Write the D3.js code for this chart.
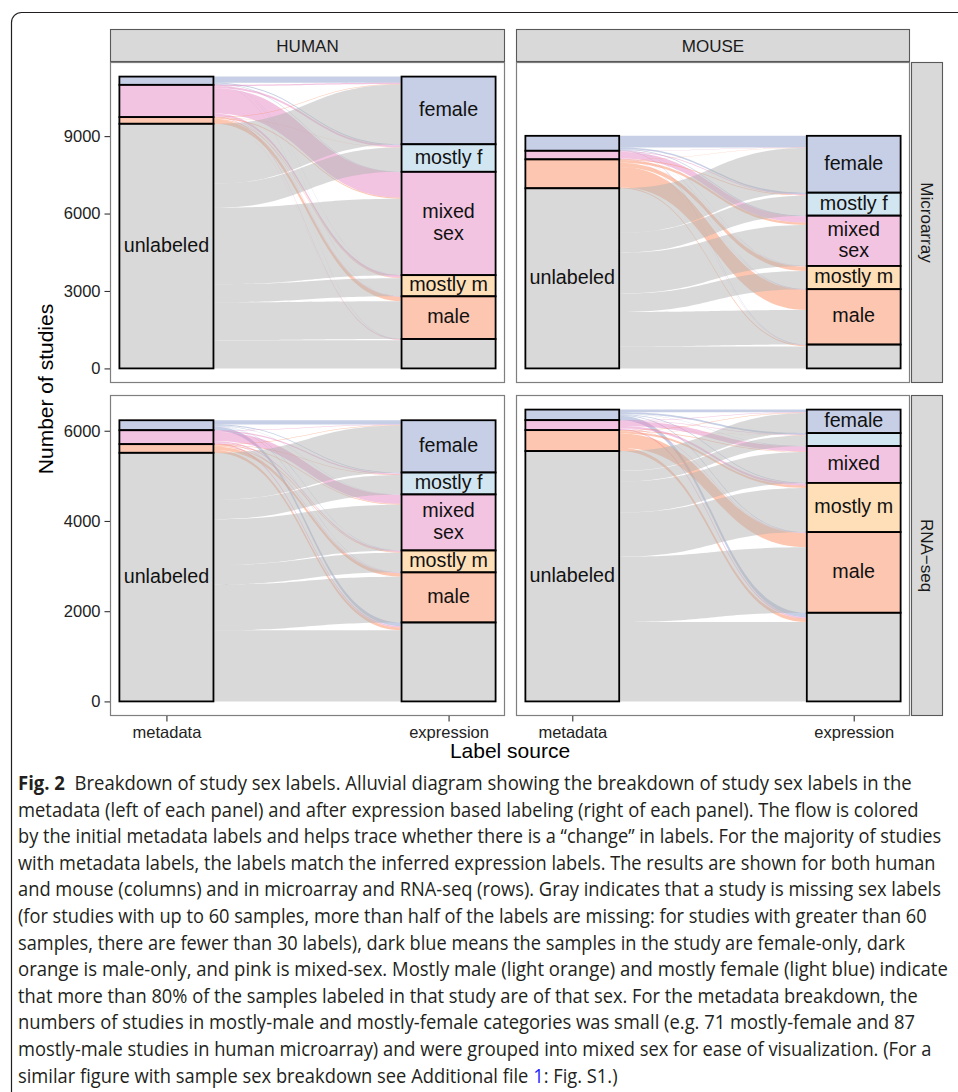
<!DOCTYPE html>
<html>
<head>
<meta charset="utf-8">
<script src="https://cdn.jsdelivr.net/npm/d3@7"></script>
<style>
  html, body { margin: 0; padding: 0; background: #fff; }
  svg { display: block; }
</style>
</head>
<body>
<svg id="fig" width="958" height="1092"></svg>
<script>
// ---- categories ----
const metaLevels = ["female", "mixed sex", "male", "unlabeled"];
const exprLevels = ["female", "mostly f", "mixed sex", "mostly m", "male", "unlabeled"];
const speciesNames = ["HUMAN", "MOUSE"];
const platformNames = ["Microarray", "RNA\u2212seq"];
const axisSources = ["metadata", "expression"];

// ---- study counts: rows = metadata label, columns = expression label ----
const humanMicroarray = [
  [240,  40,   20,   5,    5,   10],
  [50,   80,  980,  90,   20,   30],
  [15,    8,   40,  25,  165,    5],
  [2316, 940, 2963, 700, 1466, 1093]
];
const mouseMicroarray = [
  [450,  60,   25,  10,   14,  20],
  [15,   30,  250,  15,   10,  12],
  [10,   28,   90, 168,  782,  42],
  [1727, 772, 1584, 707, 1340, 850]
];
const humanRnaseq = [
  [95,   20,   10,   8,    8,   80],
  [10,   30,  200,  25,   14,   30],
  [9,     8,   17,  20,   74,   64],
  [1044, 428, 1015, 433, 1015, 1576]
];
const mouseRnaseq = [
  [60,   35,   10,  15,   14,  100],
  [10,   10,  110,  50,   10,   31],
  [9,     6,   13,  48,  314,   75],
  [442, 236,  684, 978, 1450, 1759]
];

// ---- tick labels ----
const yTicksMicroarray = [0, 3000, 6000, 9000];
const yTicksRnaseq = [0, 2000, 4000, 6000];

// ---- text written inside the strata ----
const metaStratumText = ["", "", "", "unlabeled"];
const exprStratumText = ["female", "mostly f", "mixed\nsex", "mostly m", "male", ""];
const exprStratumTextMouseRnaseq = ["female", "", "mixed", "mostly m", "male", ""];

// ---- palette ----
const paletteLevels = ["female", "mostly f", "mixed sex", "mostly m", "male", "unlabeled"];
const paletteColors = ["#8da0cb", "#a6cee3", "#e78ac3", "#fdbf6f", "#fc8d62", "#b3b3b3"];

// ---- caption ----
const captionLead = "Fig. 2";
const captionLines = [
  "Breakdown of study sex labels. Alluvial diagram showing the breakdown of study sex labels in the",
  "metadata (left of each panel) and after expression based labeling (right of each panel). The flow is colored",
  "by the initial metadata labels and helps trace whether there is a \u201cchange\u201d in labels. For the majority of studies",
  "with metadata labels, the labels match the inferred expression labels. The results are shown for both human",
  "and mouse (columns) and in microarray and RNA-seq (rows). Gray indicates that a study is missing sex labels",
  "(for studies with up to 60 samples, more than half of the labels are missing: for studies with greater than 60",
  "samples, there are fewer than 30 labels), dark blue means the samples in the study are female-only, dark",
  "orange is male-only, and pink is mixed-sex. Mostly male (light orange) and mostly female (light blue) indicate",
  "that more than 80% of the samples labeled in that study are of that sex. For the metadata breakdown, the",
  "numbers of studies in mostly-male and mostly-female categories was small (e.g. 71 mostly-female and 87",
  "mostly-male studies in human microarray) and were grouped into mixed sex for ease of visualization. (For a",
  ["similar figure with sample sex breakdown see Additional file ", "1", ": Fig. S1.)"]
];

// =====================================================================
const svg = d3.select("#fig");
const FONT = "'Liberation Sans', Arial, Helvetica, sans-serif";
const color = d3.scaleOrdinal().domain(paletteLevels).range(paletteColors);

// figure frame (only the upper-left corner is inside the page)
svg.append("path")
  .attr("d", "M11.5,1092 V22.5 A10,10 0 0 1 21.5,12.5 H958")
  .attr("fill", "none").attr("stroke", "#231f20").attr("stroke-width", 1.2);

// facet grid geometry
const colX = [[110, 505], [516, 910]];
const rowY = [[62, 383], [395, 716]];
const stripTopY = 29;
const stripRightX = [911, 943];

const panels = [
  { row: 0, col: 0, counts: humanMicroarray, metaText: metaStratumText, exprText: exprStratumText },
  { row: 0, col: 1, counts: mouseMicroarray, metaText: metaStratumText, exprText: exprStratumText },
  { row: 1, col: 0, counts: humanRnaseq,     metaText: metaStratumText, exprText: exprStratumText },
  { row: 1, col: 1, counts: mouseRnaseq,     metaText: metaStratumText, exprText: exprStratumTextMouseRnaseq }
];
const rowTicks = [yTicksMicroarray, yTicksRnaseq];

const grand = m => d3.sum(m, r => d3.sum(r));
// free y scale per row, 5% expansion on both ends
const rowMax = [0, 1].map(r => d3.max(panels.filter(p => p.row === r), p => grand(p.counts)));
const yScales = rowMax.map((mx, r) =>
  d3.scaleLinear().domain([-0.05 * mx, 1.05 * mx]).range([rowY[r][1], rowY[r][0]]));

function ribbon(xa, xb, la, lb, ra, rb) {
  const xm = (xa + xb) / 2;
  const p = d3.path();
  p.moveTo(xa, la);
  p.bezierCurveTo(xm, la, xm, ra, xb, ra);
  p.lineTo(xb, rb);
  p.bezierCurveTo(xm, rb, xm, lb, xa, lb);
  p.closePath();
  return p.toString();
}

function cumulative(arr) {
  const out = []; let s = 0;
  arr.forEach(v => { out.push(s); s += v; });
  return out;
}

function stratumLabel(g, text, cx, cy) {
  if (!text) return;
  const lines = text.split("\n");
  const lh = 21.5;
  const t = g.append("text")
    .attr("text-anchor", "middle")
    .attr("font-family", FONT).attr("font-size", 19.7).attr("fill", "#111");
  lines.forEach((ln, k) => {
    t.append("tspan").attr("x", cx)
      .attr("y", cy + 5.5 + (k - (lines.length - 1) / 2) * lh)
      .text(ln);
  });
}

panels.forEach(p => {
  const [x0, x1] = colX[p.col];
  const [y0, y1] = rowY[p.row];
  const y = yScales[p.row];
  const x = d3.scalePoint().domain(axisSources).range([x0, x1]).padding(0.2);
  const bw = x.step() / 3;
  const M = p.counts;
  const tot = grand(M);
  const rowSums = M.map(r => d3.sum(r));
  const colSums = exprLevels.map((_, j) => d3.sum(M, r => r[j]));
  const leftStart = cumulative(rowSums);
  const rightStart = cumulative(colSums);
  const g = svg.append("g");

  g.append("rect").attr("x", x0).attr("y", y0).attr("width", x1 - x0).attr("height", y1 - y0)
    .attr("fill", "#fff");

  // flows: lodes ordered by destination on the left, by origin on the right
  const flows = [];
  M.forEach((r, i) => r.forEach((v, j) => {
    if (v <= 0) return;
    const lo = leftStart[i] + d3.sum(r.slice(0, j));
    const ro = rightStart[j] + d3.sum(M.slice(0, i), rr => rr[j]);
    flows.push({ i, j, v, lo, ro });
  }));
  const xa = x("metadata") + bw / 2, xb = x("expression") - bw / 2;
  g.append("g").selectAll("path").data(flows).join("path")
    .attr("d", f => ribbon(xa, xb,
      y(tot - f.lo), y(tot - f.lo - f.v),
      y(tot - f.ro), y(tot - f.ro - f.v)))
    .attr("fill", f => color(metaLevels[f.i]))
    .attr("fill-opacity", 0.5);

  // strata
  const strata = [];
  metaLevels.forEach((lv, i) => strata.push({ lv, axis: "metadata", start: leftStart[i], n: rowSums[i], text: p.metaText[i] }));
  exprLevels.forEach((lv, j) => strata.push({ lv, axis: "expression", start: rightStart[j], n: colSums[j], text: p.exprText[j] }));
  const sg = g.append("g");
  strata.forEach(s => {
    const top = y(tot - s.start), bot = y(tot - s.start - s.n);
    sg.append("rect")
      .attr("x", x(s.axis) - bw / 2).attr("y", top)
      .attr("width", bw).attr("height", bot - top)
      .attr("fill", color(s.lv)).attr("fill-opacity", 0.5)
      .attr("stroke", "#000").attr("stroke-width", 1.8);
  });
  strata.forEach(s => {
    const top = y(tot - s.start), bot = y(tot - s.start - s.n);
    stratumLabel(sg, s.text, x(s.axis), (top + bot) / 2);
  });

  // panel border
  g.append("rect").attr("x", x0 + 0.5).attr("y", y0 + 0.5)
    .attr("width", x1 - x0 - 1).attr("height", y1 - y0 - 1)
    .attr("fill", "none").attr("stroke", "#7f7f7f").attr("stroke-width", 1.2);

  // y axis on the first column
  if (p.col === 0) {
    const ax = svg.append("g").attr("transform", `translate(${x0},0)`)
      .call(d3.axisLeft(y).tickValues(rowTicks[p.row]).tickSize(5.5).tickPadding(4).tickFormat(d3.format("d")));
    ax.select(".domain").remove();
    ax.selectAll(".tick line").attr("stroke", "#333").attr("stroke-width", 1.1);
    ax.selectAll(".tick text").attr("font-family", FONT).attr("font-size", 16.5).attr("fill", "#222");
  }
  // x axis on the bottom row
  if (p.row === 1) {
    const ax = svg.append("g").attr("transform", `translate(0,${y1})`)
      .call(d3.axisBottom(x).tickSize(5.5).tickPadding(5));
    ax.select(".domain").remove();
    ax.selectAll(".tick line").attr("stroke", "#333").attr("stroke-width", 1.1);
    ax.selectAll(".tick text").attr("font-family", FONT).attr("font-size", 16.5).attr("fill", "#222");
  }
});

// top strips
speciesNames.forEach((nm, c) => {
  const [x0, x1] = colX[c];
  svg.append("rect").attr("x", x0 + 0.5).attr("y", stripTopY + 0.5)
    .attr("width", x1 - x0 - 1).attr("height", rowY[0][0] - stripTopY - 1)
    .attr("fill", "#d9d9d9").attr("stroke", "#595959").attr("stroke-width", 1.1);
  svg.append("text").attr("x", (x0 + x1) / 2).attr("y", (stripTopY + rowY[0][0]) / 2 + 6)
    .attr("text-anchor", "middle").attr("font-family", FONT).attr("font-size", 17).attr("fill", "#1a1a1a")
    .text(nm);
});
// right strips
platformNames.forEach((nm, r) => {
  const [y0, y1] = rowY[r];
  svg.append("rect").attr("x", stripRightX[0] + 0.5).attr("y", y0 + 0.5)
    .attr("width", stripRightX[1] - stripRightX[0] - 1).attr("height", y1 - y0 - 1)
    .attr("fill", "#d9d9d9").attr("stroke", "#595959").attr("stroke-width", 1.1);
  const cx = (stripRightX[0] + stripRightX[1]) / 2, cy = (y0 + y1) / 2;
  svg.append("text").attr("transform", `translate(${cx - 6},${cy}) rotate(90)`)
    .attr("text-anchor", "middle").attr("font-family", FONT).attr("font-size", 17).attr("fill", "#1a1a1a")
    .text(nm);
});

// axis titles
svg.append("text").attr("transform", `translate(53,${(rowY[0][0] + rowY[1][1]) / 2}) rotate(-90)`)
  .attr("text-anchor", "middle").attr("font-family", FONT).attr("font-size", 21).attr("fill", "#000")
  .text("Number of studies");
svg.append("text").attr("x", (colX[0][0] + colX[1][1]) / 2).attr("y", 758)
  .attr("text-anchor", "middle").attr("font-family", FONT).attr("font-size", 21).attr("fill", "#000")
  .text("Label source");

// caption: each line set in a humanist sans, squeezed horizontally to a condensed width
const CAP_FONT = "'Open Sans', 'Noto Sans', sans-serif";
const capX = 18, capY0 = 790, capLH = 26.6;
const capRight = [912, 919, 942, 936, 942, 928, 906, 948, 918, 915, 932];
const capRows = [];
captionLines.forEach((ln, i) => {
  const g = svg.append("g");
  const t = g.append("text").attr("x", 0).attr("y", 0)
    .attr("font-family", CAP_FONT).attr("font-size", 20).attr("fill", "#231f20")
    .style("white-space", "pre");
  if (i === 0) {
    t.append("tspan").attr("font-weight", 700).text(captionLead);
    t.append("tspan").text("  " + ln);
  } else if (Array.isArray(ln)) {
    t.append("tspan").text(ln[0]);
    t.append("tspan").attr("fill", "#1d1dff").text(ln[1]);
    t.append("tspan").text(ln[2]);
  } else {
    t.text(ln);
  }
  capRows.push({ g, nat: t.node().getComputedTextLength() });
});
const ratios = capRight.map((r, i) => (r - capX) / capRows[i].nat);
const meanRatio = d3.mean(ratios);
capRows.forEach((row, i) => {
  const sx = i < ratios.length ? ratios[i] : meanRatio;
  row.g.attr("transform", `translate(${capX},${capY0 + i * capLH}) scale(${sx},1)`);
});
</script>
</body>
</html>
